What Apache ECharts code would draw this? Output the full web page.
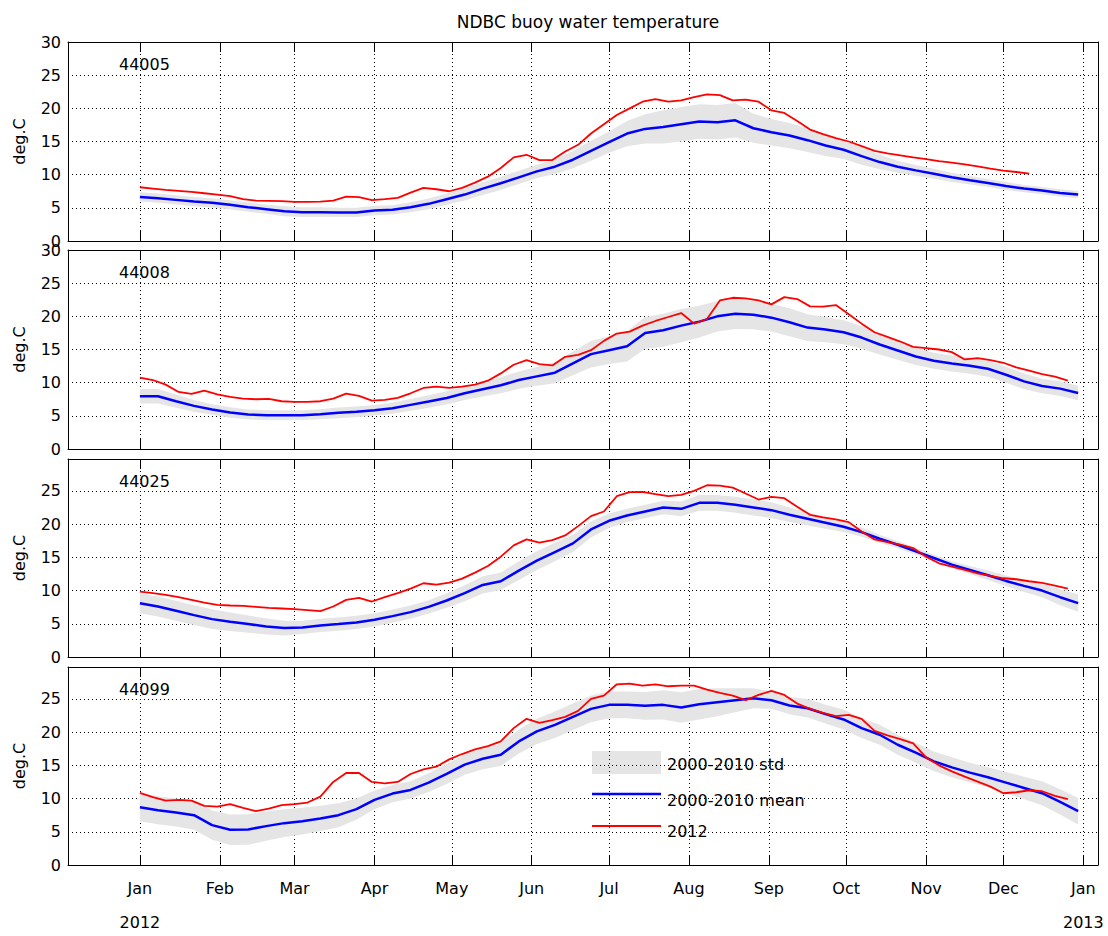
<!DOCTYPE html>
<html><head><meta charset="utf-8">
<script src="https://cdn.jsdelivr.net/npm/echarts@6/dist/echarts.min.js"></script>
<style>html,body{margin:0;padding:0;background:#fff}#c{width:1108px;height:936px}</style>
</head><body><div id="c"></div>
<script>
// ---------------- data ----------------
const stations = ['44005', '44008', '44025', '44099'];
const monthNames = ['Jan','Feb','Mar','Apr','May','Jun','Jul','Aug','Sep','Oct','Nov','Dec'];
const yTicks = [0, 5, 10, 15, 20, 25, 30];
const seriesNames = ['2000-2010 std', '2000-2010 mean', '2012'];

// days since 1 Jan 2012
const redDays = [0,5,10,15,20,25,30,35,40,45,50,55,60,65,70,75,80,85,90,95,100,105,110,115,120,125,130,135,140,145,150,155,160,165,170,175,180,185,190,195,200,205,210,215,220,225,230,235,240,245,250,255,260,265,270,275,280,285,290,295,300,305,310,315,320,325,330,335,340,345,350,355,360];
const meanDays = [0,7,14,21,28,35,42,49,56,63,70,77,84,91,98,105,112,119,126,133,140,147,154,161,168,175,182,189,196,203,210,217,224,231,238,245,252,259,266,273,280,287,294,301,308,315,322,329,336,343,350,357,364];

const red44005 = [8.1,7.9,7.7,7.55,7.4,7.2,7.0,6.75,6.3,6.1,6.05,6.0,5.9,5.9,5.95,6.1,6.7,6.6,6.15,6.3,6.5,7.3,8.0,7.8,7.5,8.0,8.8,9.7,11.0,12.6,13.0,12.2,12.2,13.5,14.5,16.2,17.6,19.0,20.0,21.0,21.4,21.0,21.2,21.7,22.1,22.0,21.2,21.3,21.0,19.7,19.3,18.1,16.8,16.1,15.5,15.0,14.3,13.6,13.2,12.9,12.6,12.35,12.05,11.8,11.55,11.25,10.9,10.6,10.4,10.15,null,null,null];
const mean44005 = [6.65,6.45,6.2,5.95,5.75,5.45,5.1,4.8,4.5,4.35,4.35,4.3,4.3,4.6,4.7,5.1,5.6,6.3,7.0,7.9,8.7,9.6,10.5,11.2,12.25,13.6,14.9,16.2,16.9,17.2,17.6,18.0,17.9,18.2,17.0,16.4,15.9,15.2,14.4,13.75,12.8,11.9,11.2,10.65,10.15,9.6,9.15,8.75,8.3,7.9,7.6,7.25,7.0];
const std44005 = [0.7,0.7,0.7,0.7,0.7,0.7,0.7,0.7,0.75,0.75,0.75,0.7,0.7,0.7,0.7,0.75,0.8,0.85,0.9,0.95,1.0,1.0,1.0,1.1,1.3,1.5,1.6,1.9,2.2,2.5,2.6,2.6,2.6,2.6,2.2,2.0,1.9,1.8,1.6,1.4,1.3,1.1,0.9,0.8,0.75,0.7,0.65,0.6,0.6,0.55,0.55,0.55,0.55];

const red44008 = [10.75,10.4,9.7,8.6,8.3,8.8,8.25,7.85,7.6,7.5,7.55,7.2,7.1,7.1,7.2,7.6,8.35,8.0,7.3,7.4,7.7,8.4,9.2,9.4,9.2,9.4,9.7,10.3,11.4,12.7,13.4,12.8,12.6,13.9,14.2,14.9,16.3,17.4,17.7,18.6,19.3,19.9,20.5,18.9,19.6,22.4,22.8,22.7,22.4,21.8,22.9,22.6,21.5,21.45,21.7,20.3,18.9,17.6,16.9,16.2,15.4,15.2,15.0,14.6,13.5,13.7,13.4,13.0,12.3,11.8,11.3,10.9,10.3];
const mean44008 = [7.95,7.95,7.2,6.5,5.95,5.5,5.2,5.1,5.1,5.1,5.25,5.45,5.6,5.85,6.15,6.65,7.15,7.7,8.4,9.0,9.6,10.4,10.95,11.5,12.9,14.3,14.9,15.5,17.5,17.9,18.6,19.2,20.0,20.4,20.25,19.8,19.1,18.3,18.0,17.6,16.8,15.75,14.85,13.95,13.3,12.9,12.55,12.1,11.2,10.2,9.5,9.1,8.45];
const std44008 = [1.1,1.1,1.0,0.9,0.8,0.8,0.75,0.75,0.75,0.75,0.75,0.8,0.8,0.8,0.85,0.9,0.95,1.0,1.0,1.1,1.2,1.3,1.4,1.6,1.8,2.0,2.1,2.3,2.4,2.5,2.5,2.4,2.3,2.3,2.2,2.1,2.1,2.0,1.9,1.8,1.7,1.5,1.4,1.3,1.2,1.2,1.2,1.2,1.2,1.2,1.1,1.1,1.1];

const red44025 = [9.85,9.6,9.35,9.0,8.6,8.2,7.85,7.75,7.7,7.55,7.4,7.3,7.2,7.05,6.9,7.6,8.6,8.9,8.35,9.0,9.6,10.3,11.1,10.9,11.2,11.8,12.7,13.7,15.1,16.8,17.7,17.2,17.6,18.3,19.7,21.2,21.9,24.2,24.8,24.85,24.5,24.2,24.4,25.0,25.85,25.8,25.5,24.6,23.7,24.1,23.9,22.6,21.4,21.0,20.7,20.3,18.9,17.7,17.3,16.9,16.4,15.1,14.1,13.6,13.1,12.6,12.2,11.85,11.7,11.4,11.15,10.75,10.3];
const mean44025 = [8.1,7.6,6.95,6.3,5.7,5.3,4.95,4.6,4.35,4.45,4.75,4.95,5.2,5.6,6.15,6.75,7.55,8.5,9.6,10.85,11.4,13.0,14.5,15.8,17.1,19.2,20.5,21.3,21.9,22.5,22.3,23.2,23.2,22.9,22.5,22.1,21.4,20.8,20.2,19.6,18.8,17.8,16.9,15.9,14.9,13.9,13.1,12.3,11.45,10.7,10.0,9.0,8.1];
const std44025 = [1.5,1.5,1.5,1.5,1.5,1.4,1.3,1.2,1.1,1.0,1.0,1.0,1.0,1.0,1.0,1.0,1.0,1.1,1.2,1.3,1.3,1.4,1.4,1.4,1.3,1.2,1.1,1.0,1.0,1.0,1.1,1.2,1.2,1.2,1.2,1.2,1.1,1.0,0.9,0.8,0.7,0.6,0.55,0.5,0.5,0.5,0.6,0.7,0.8,0.9,1.0,1.2,1.3];

const red44099 = [10.85,10.2,9.7,9.8,9.7,8.9,8.8,9.15,8.6,8.1,8.5,9.0,9.15,9.4,10.3,12.5,13.85,13.85,12.5,12.3,12.5,13.7,14.4,14.8,15.9,16.7,17.4,17.9,18.6,20.6,22.0,21.4,21.8,22.3,23.2,25.0,25.5,27.2,27.3,27.0,27.2,26.9,27.0,27.0,26.4,25.9,25.5,24.8,25.6,26.2,25.6,24.3,23.5,22.9,22.4,22.6,22.0,20.2,19.5,18.95,18.3,16.2,15.0,14.1,13.3,12.55,11.8,10.8,10.95,11.25,11.1,10.4,9.9];
const mean44099 = [8.7,8.25,7.9,7.5,6.0,5.3,5.35,5.85,6.3,6.6,7.0,7.5,8.4,9.8,10.75,11.3,12.4,13.7,15.1,16.0,16.6,18.6,20.1,21.1,22.3,23.5,24.1,24.1,23.95,24.1,23.7,24.2,24.5,24.8,25.1,24.8,24.0,23.6,22.7,21.9,20.6,19.6,18.1,16.9,15.6,14.7,13.9,13.2,12.4,11.6,10.8,9.5,8.1];
const std44099 = [2.1,2.1,2.1,2.2,2.2,2.3,2.3,2.2,2.1,2.0,1.9,1.8,1.6,1.4,1.3,1.3,1.4,1.5,1.5,1.6,1.7,1.8,1.9,2.0,2.0,2.0,2.0,2.0,2.1,2.2,2.3,2.3,2.1,1.8,1.5,1.3,1.3,1.4,1.4,1.5,1.5,1.5,1.5,1.5,1.5,1.5,1.5,1.5,1.6,1.7,1.8,1.9,2.0];

const redData = [red44005, red44008, red44025, red44099];
const meanData = [mean44005, mean44008, mean44025, mean44099];
const stdData = [std44005, std44008, std44025, std44099];
const yMaxes = [30, 30, 29.8, 29.8];

// ---------------- layout / style ----------------
const FONT = 'DejaVu Sans';
const gridTops = [42, 250, 459, 667];
const gridHeights = [199, 199, 198, 198];
const gridLeft = 68, gridWidth = 1030;
const xMinDay = -27.9, xMaxDay = 371.7;
const BAND = '#e5e5e5', BLUE = '#0000ff', RED = '#ff0000';

const DAY = 86400000;
const base = new Date(2012, 0, 1).getTime();
const toT = d => base + d * DAY;
const xMin = toT(xMinDay), xMax = toT(xMaxDay);

function monthLabel(v) {
  if (v <= xMin + DAY || v >= xMax - DAY) return '';
  const d = new Date(v);
  if (d.getDate() !== 1) return '';
  const m = monthNames[d.getMonth()];
  return d.getMonth() === 0 ? m + '\n\n' + d.getFullYear() : m;
}

const grids = [], xAxes = [], yAxes = [], series = [], graphics = [];
const dotted = { type: [1, 3], color: '#000', width: 1 };
const tickStyle = { inside: true, length: 10, lineStyle: { color: '#000', width: 1 } };
const lineAxis = { show: true, onZero: false, lineStyle: { color: '#000', width: 1 } };

for (let i = 0; i < 4; i++) {
  grids.push({ left: gridLeft, top: gridTops[i], width: gridWidth, height: gridHeights[i], containLabel: false });
  const xBase = { type: 'time', gridIndex: i, min: xMin, max: xMax, minInterval: 28 * DAY, maxInterval: 31 * DAY,
    axisLine: lineAxis, axisTick: tickStyle };
  xAxes.push(Object.assign({}, xBase, {
    position: 'bottom',
    axisLabel: { show: i === 3, formatter: monthLabel, color: '#000', fontFamily: FONT, fontSize: 16, margin: 15, lineHeight: 17, hideOverlap: false },
    splitLine: { show: true, lineStyle: dotted }
  }));
  xAxes.push(Object.assign({}, xBase, {
    position: 'top', axisLabel: { show: false }, splitLine: { show: false }
  }));
  const yBase = { type: 'value', gridIndex: i, min: 0, max: yMaxes[i], interval: 5, axisLine: lineAxis, axisTick: tickStyle };
  yAxes.push(Object.assign({}, yBase, {
    position: 'left',
    name: 'deg.C', nameLocation: 'middle', nameGap: 41, nameRotate: 90,
    nameTextStyle: { color: '#000', fontFamily: FONT, fontSize: 16 },
    axisLabel: { color: '#000', fontFamily: FONT, fontSize: 16, margin: 7,
      formatter: v => (yTicks.indexOf(v) >= 0 ? String(v) : ''), showMaxLabel: true, showMinLabel: true },
    splitLine: { show: true, lineStyle: dotted }
  }));
  yAxes.push(Object.assign({}, yBase, {
    position: 'right', axisLabel: { show: false }, splitLine: { show: false }
  }));

  const xi = 2 * i, yi = 2 * i;
  const lower = meanDays.map((d, k) => [toT(d), meanData[i][k] - stdData[i][k]]);
  const width = meanDays.map((d, k) => [toT(d), 2 * stdData[i][k]]);
  series.push({ type: 'line', name: 'lower' + i, xAxisIndex: xi, yAxisIndex: yi, data: lower, stack: 'band' + i,
    symbol: 'none', lineStyle: { width: 0, opacity: 0 }, silent: true, z: 1 });
  series.push({ type: 'line', name: seriesNames[0], xAxisIndex: xi, yAxisIndex: yi, data: width, stack: 'band' + i,
    symbol: 'none', lineStyle: { width: 0, opacity: 0 }, areaStyle: { color: BAND, opacity: 1 }, silent: true, z: 1 });
  series.push({ type: 'line', name: seriesNames[1], xAxisIndex: xi, yAxisIndex: yi,
    data: meanDays.map((d, k) => [toT(d), meanData[i][k]]),
    symbol: 'none', lineStyle: { color: BLUE, width: 2.5 }, itemStyle: { color: BLUE }, z: 3 });
  series.push({ type: 'line', name: seriesNames[2], xAxisIndex: xi, yAxisIndex: yi,
    data: redDays.map((d, k) => [toT(d), redData[i][k]]),
    symbol: 'none', lineStyle: { color: RED, width: 1.8 }, itemStyle: { color: RED }, z: 4 });

  graphics.push({ type: 'text', left: 119, top: gridTops[i] + 14,
    style: { text: stations[i], fill: '#000', font: '16px "' + FONT + '"' } });
}

// legend (drawn in the lowest panel)
graphics.push({ type: 'rect', shape: { x: 592, y: 751, width: 69, height: 23 }, style: { fill: BAND } });
graphics.push({ type: 'line', shape: { x1: 592, y1: 794, x2: 661, y2: 794 }, style: { stroke: BLUE, lineWidth: 2.5 } });
graphics.push({ type: 'line', shape: { x1: 592, y1: 826, x2: 661, y2: 826 }, style: { stroke: RED, lineWidth: 2 } });
[[seriesNames[0], 764], [seriesNames[1], 800], [seriesNames[2], 831]].forEach(([t, y]) => {
  graphics.push({ type: 'text', x: 667, y: y,
    style: { text: t, fill: '#000', font: '16px "' + FONT + '"', textVerticalAlign: 'middle', verticalAlign: 'middle' } });
});

const chart = echarts.init(document.getElementById('c'), null, { renderer: 'svg', width: 1108, height: 936 });
chart.setOption({
  animation: false,
  backgroundColor: '#fff',
  title: { text: 'NDBC buoy water temperature', left: 583, top: 8, textAlign: 'center',
    textStyle: { color: '#000', fontFamily: FONT, fontSize: 17, fontWeight: 'normal' } },
  grid: grids, xAxis: xAxes, yAxis: yAxes, series: series, graphic: graphics
});
</script></body></html>
